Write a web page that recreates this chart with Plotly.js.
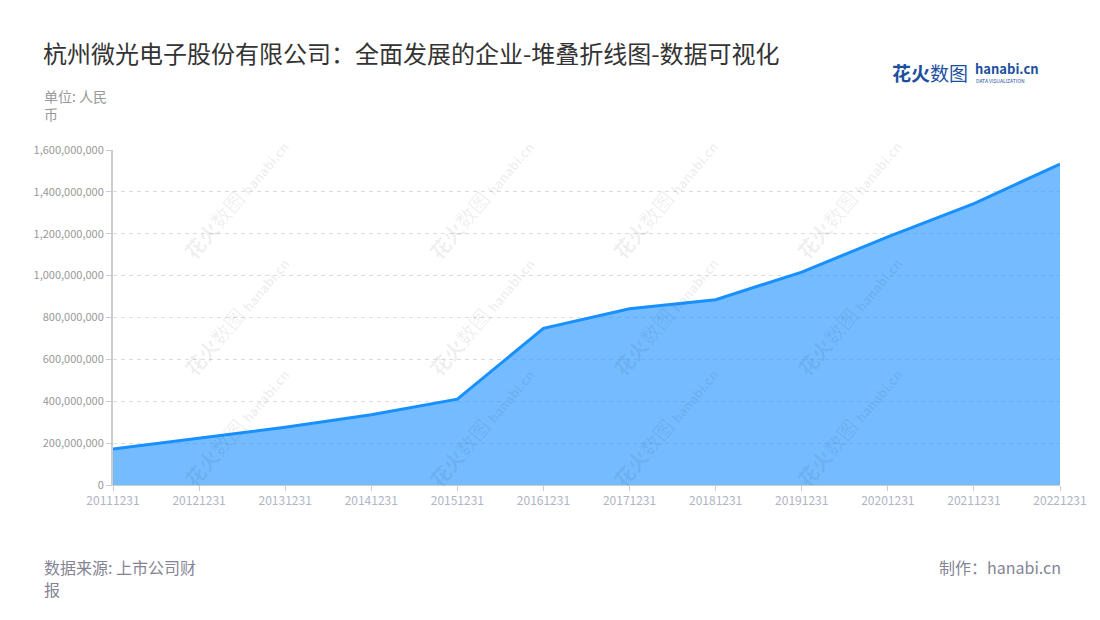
<!DOCTYPE html>
<html>
<head>
<meta charset="utf-8">
<script src="https://cdn.plot.ly/plotly-3.0.1.min.js"></script>
<style>
  html, body { margin: 0; padding: 0; background: #fff; }
  #chart { width: 1100px; height: 620px; }
</style>
</head>
<body>
<div id="chart"></div>
<script>
// Report dates (x categories)
var dates = ['20111231', '20121231', '20131231', '20141231', '20151231', '20161231',
             '20171231', '20181231', '20191231', '20201231', '20211231', '20221231'];

// Total value, RMB
var values = [172000000, 223000000, 276000000, 336000000, 410000000, 748000000,
              842000000, 885000000, 1017000000, 1185000000, 1344000000, 1533000000];

// Y axis ticks
var yTicks = [0, 200000000, 400000000, 600000000, 800000000, 1000000000,
              1200000000, 1400000000, 1600000000];

var FONT = '"Noto Sans CJK SC", "Noto Sans", sans-serif';

// Watermark grid (paper coordinates)
var wmX = [0.065, 0.324, 0.583, 0.842];
var wmY = [1.06, 0.507, -0.03];


function drawChart() {

    var data = [{
        x: dates,
        y: values,
        type: 'scatter',
        mode: 'lines',
        fill: 'tozeroy',
        fillcolor: 'rgba(24,144,255,0.6)',
        line: {color: '#1890ff', width: 3},
        hoverinfo: 'x+y'
    }];

    // Texts outside the plot area
    var annotations = [
        {text: '单位: 人民<br>币', xref: 'paper', yref: 'paper', x: -0.075, y: 1.197,
         xanchor: 'left', yanchor: 'top', align: 'left', showarrow: false,
         font: {family: FONT, size: 14, color: '#999'}},
        {text: '数据来源: 上市公司财', xref: 'paper', yref: 'paper', x: -0.075, y: -0.245,
         xanchor: 'left', yanchor: 'middle', showarrow: false,
         font: {family: FONT, size: 16, color: '#858494'}},
        {text: '报', xref: 'paper', yref: 'paper', x: -0.075, y: -0.31,
         xanchor: 'left', yanchor: 'middle', showarrow: false,
         font: {family: FONT, size: 16, color: '#858494'}},
        {text: '制作：hanabi.cn', xref: 'paper', yref: 'paper', x: 1.003, y: -0.245,
         xanchor: 'right', yanchor: 'middle', showarrow: false,
         font: {family: FONT, size: 16, color: '#858494'}},
        // Logo
        {text: '<b>花火</b>数图', xref: 'paper', yref: 'paper', x: 0.82, y: 1.23,
         xanchor: 'left', yanchor: 'middle', showarrow: false,
         font: {family: FONT, size: 19, color: '#1d4f9f'}},
        {text: '<b>hanabi.cn</b>', xref: 'paper', yref: 'paper', x: 0.908, y: 1.243,
         xanchor: 'left', yanchor: 'middle', showarrow: false,
         font: {family: FONT, size: 13, color: '#1d4f9f'}},
        {text: 'DATA VISUALIZATION', xref: 'paper', yref: 'paper', x: 0.909, y: 1.207,
         xanchor: 'left', yanchor: 'middle', showarrow: false,
         font: {family: FONT, size: 5, color: '#1d4f9f'}}
    ];

    for (var i = 0; i < wmX.length; i++) {
        for (var j = 0; j < wmY.length; j++) {
            annotations.push({
                text: '<b>花火</b>数图 <b><span style="font-size:13px">hanabi.cn</span></b>',
                xref: 'paper', yref: 'paper', x: wmX[i], y: wmY[j],
                showarrow: false, textangle: -50,
                font: {family: FONT, size: 20, color: 'rgba(0,0,0,0.07)'}
            });
        }
    }

    var layout = {
        width: 1100,
        height: 620,
        margin: {l: 113, r: 40, t: 150, b: 135},
        paper_bgcolor: '#fff',
        plot_bgcolor: '#fff',
        showlegend: false,
        title: {
            text: '杭州微光电子股份有限公司：全面发展的企业-堆叠折线图-数据可视化',
            x: 0.039, xanchor: 'left', y: 0.912, yanchor: 'middle',
            font: {family: FONT, size: 24, color: '#333'}
        },
        xaxis: {
            type: 'category',
            range: [0, dates.length - 1],
            showgrid: false,
            showline: true, linecolor: '#ccc', linewidth: 1,
            ticks: 'outside', ticklen: 5, tickcolor: '#ccc',
            tickfont: {family: FONT, size: 12, color: '#b0b4c3'},
            zeroline: false,
            fixedrange: true
        },
        yaxis: {
            range: [0, 1600000000],
            tickvals: yTicks,
            tickformat: ',d',
            showgrid: true, gridcolor: '#ddd', griddash: '4px,4px', gridwidth: 1,
            showline: true, linecolor: '#ccc', linewidth: 2,
            ticks: 'outside', ticklen: 5, tickcolor: '#ccc',
            tickfont: {family: FONT, size: 11, color: '#999'},
            zeroline: false,
            fixedrange: true
        },
        annotations: annotations
    };

    Plotly.newPlot('chart', data, layout, {displayModeBar: false, staticPlot: true});
}

drawChart();
</script>
</body>
</html>
